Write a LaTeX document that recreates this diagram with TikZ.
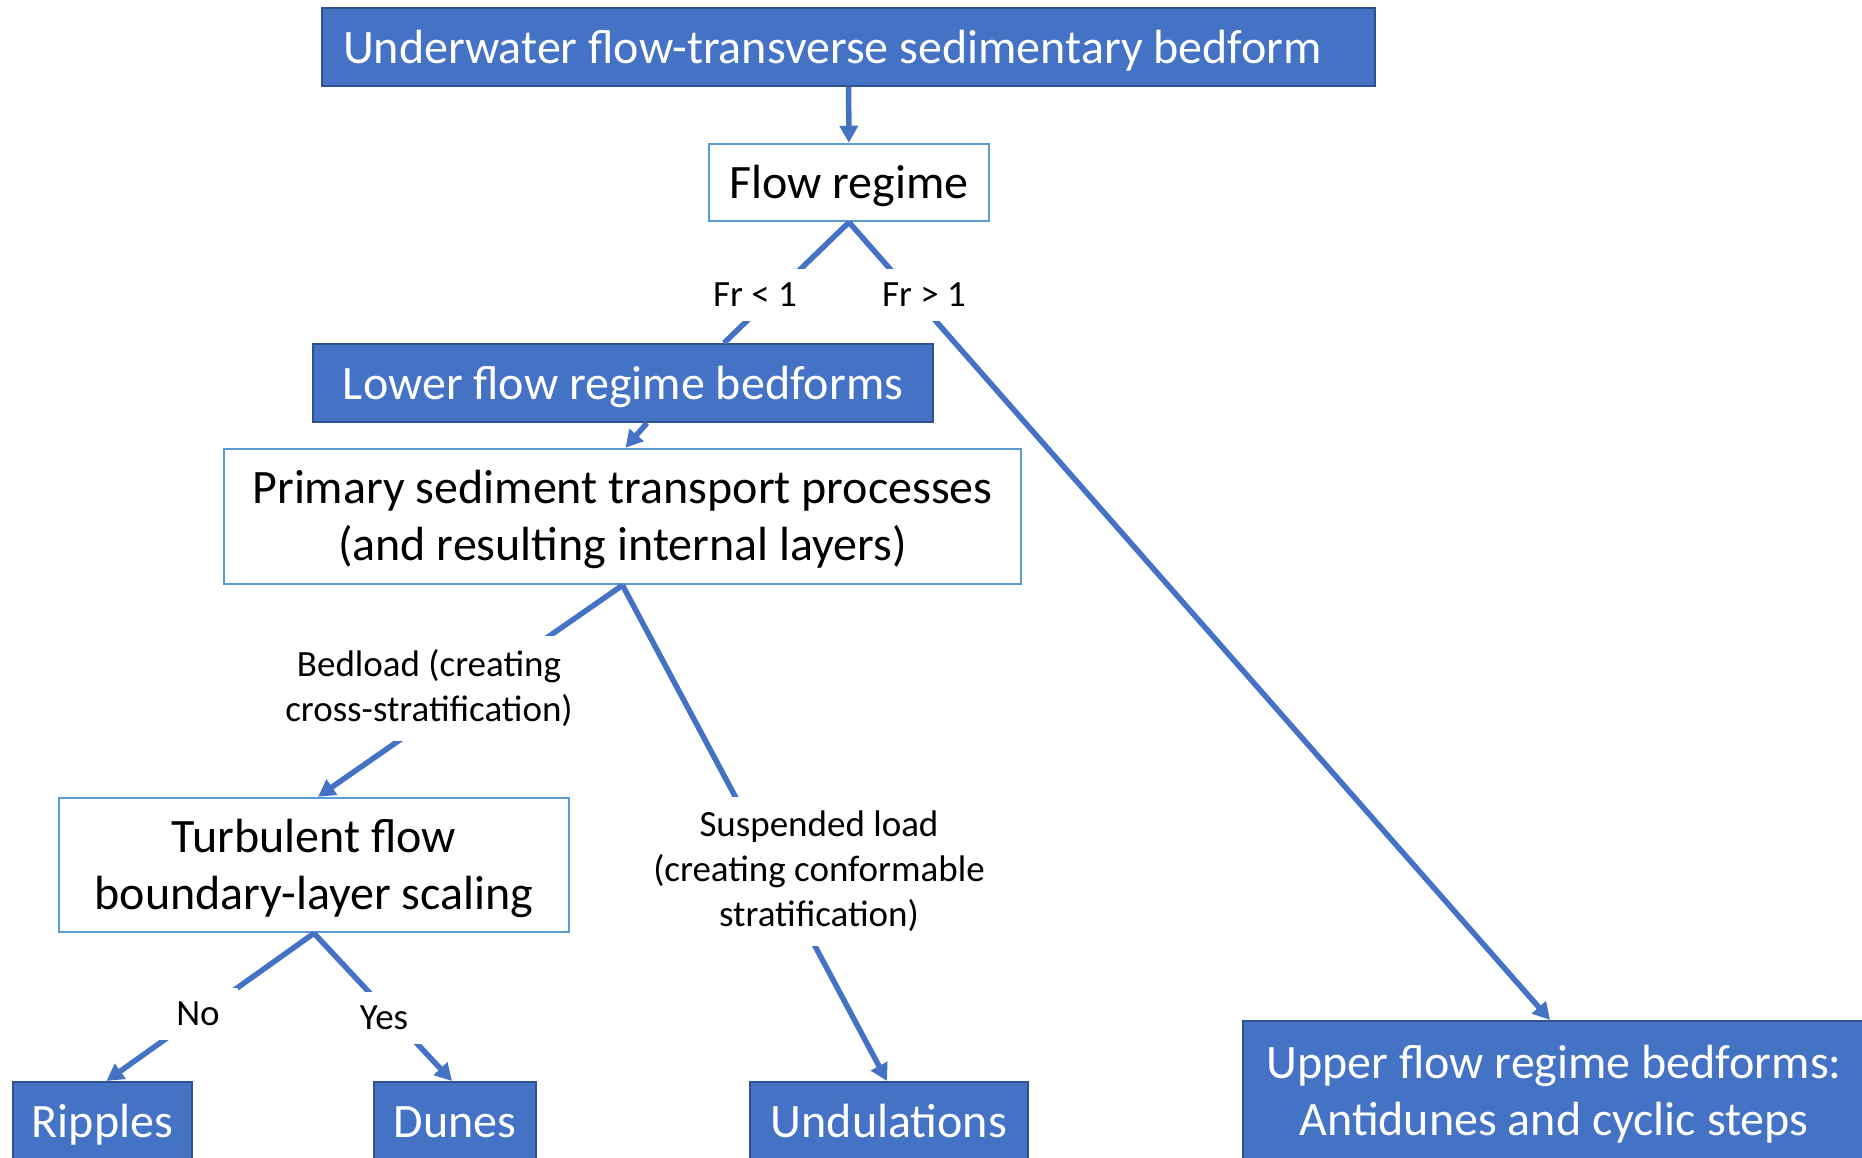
\documentclass[tikz,border=0pt]{standalone}
\usepackage{fontspec}
\setmainfont{Carlito}
\usetikzlibrary{arrows.meta}

\definecolor{boxblue}{HTML}{4472C4}
\definecolor{boxedge}{HTML}{2F528F}
\definecolor{lightedge}{HTML}{5B9BD5}

\tikzset{
	bigtext/.style={font=\fontsize{48}{57}\selectfont, align=center, execute at begin node={\rule[-0.21em]{0pt}{1.09em}}},
	twolines/.style={text depth=2pt},
	bluebox/.style={bigtext, draw=boxedge, line width=2pt, fill=boxblue, text=white, inner sep=0pt},
	whitebox/.style={bigtext, draw=lightedge, line width=2.5pt, fill=white, text=black, inner sep=0pt},
	lbl/.style={fill=white, inner xsep=18pt, inner ysep=14pt, font=\fontsize{37}{45}\selectfont, align=center},
	link/.style={draw=boxblue, line width=5.5pt},
	arr/.style={link, -{Triangle[length=17pt, width=18pt]}}
}

\begin{document}
\begin{tikzpicture}[x=1pt, y=-1pt]
	\path[use as bounding box, clip] (0,0) rectangle (1862,1158);

	% boxes
	\node[bluebox, minimum width=1053, minimum height=78, inner xsep=21pt, text width=1011pt, align=flush left] (top) at (848.5,47) {Underwater flow-transverse sedimentary bedform};
	\node[whitebox, minimum width=280, minimum height=77] (flow) at (849,182.5) {Flow regime};
	\node[bluebox, minimum width=620, minimum height=78] (lower) at (623,383) {Lower flow regime bedforms};
	\node[whitebox, twolines, minimum width=797, minimum height=135] (primary) at (622.5,516.5) {Primary sediment transport processes\\(and resulting internal layers)};
	\node[whitebox, twolines, minimum width=510, minimum height=134] (turb) at (314,865) {Turbulent flow\\boundary-layer scaling};
	\node[bluebox, minimum width=179, minimum height=78] (ripples) at (102.5,1121) {Ripples};
	\node[bluebox, minimum width=162, minimum height=78] (dunes) at (455,1121) {Dunes};
	\node[bluebox, minimum width=278, minimum height=78] (undul) at (889,1121) {Undulations};
	\node[bluebox, twolines, minimum width=622, minimum height=140] (upper) at (1554,1091) {Upper flow regime bedforms:\\Antidunes and cyclic steps};

	% connectors
	\path (top) edge[arr] (flow);
	\path (flow.south) edge[link] ([xshift=101pt]lower.north);
	\path (flow.south) edge[arr] ([xshift=-4pt]upper.north);
	\path ([xshift=24pt]lower.south) edge[arr] ([xshift=3pt]primary.north);
	\path (primary.south) edge[arr] ([xshift=4pt]turb.north);
	\path (primary.south) edge[arr] ([xshift=-2pt]undul.north);
	\path (turb.south) edge[arr] ([xshift=4pt]ripples.north);
	\path (turb.south) edge[arr] ([xshift=-3pt]dunes.north);

	% labels on top of the lines
	\node[lbl] (frlow) at (755,295) {Fr < 1};
	\node[lbl] (frhigh) at (924,295) {Fr > 1};
	\node[lbl] (bedload) at (429,688.5) {Bedload (creating\\cross-stratification)};
	\node[lbl] (susp) at (819,871.5) {Suspended load\\(creating conformable\\stratification)};
	\node[lbl] (no) at (198,1014) {No};
	\node[lbl] (yes) at (384,1018) {Yes};
\end{tikzpicture}
\end{document}
